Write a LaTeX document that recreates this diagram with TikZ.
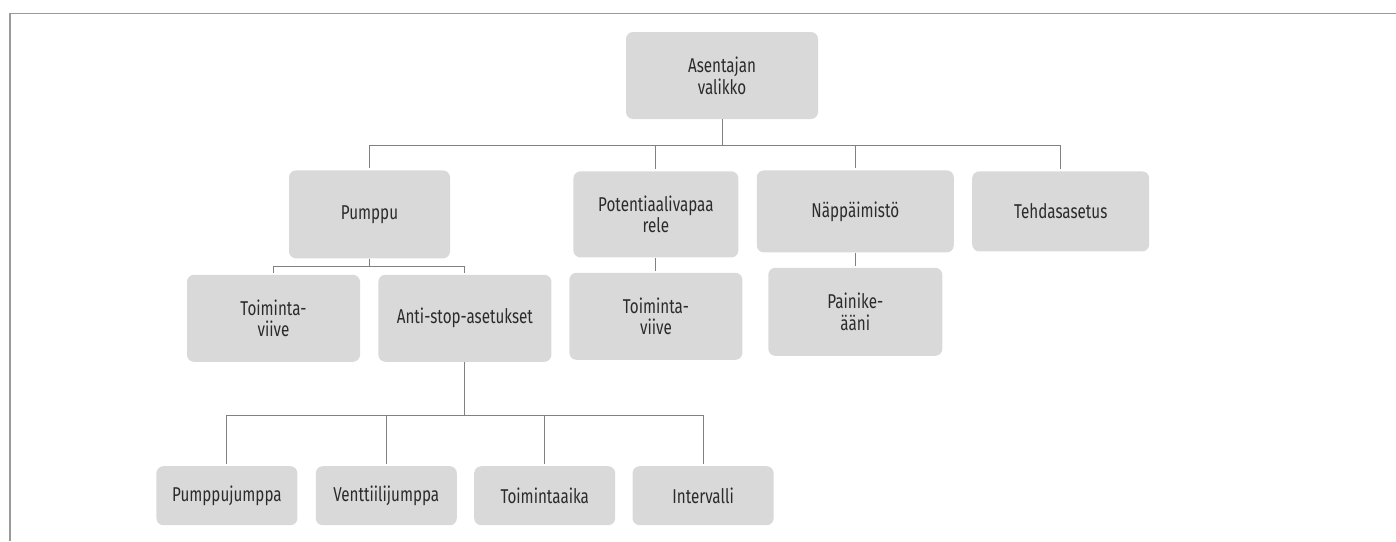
\documentclass[tikz,border=0pt]{standalone}
\usepackage{fontspec}
\setmainfont{Fira Sans}[FakeStretch=0.76]
\usepackage{tikz}
\usetikzlibrary{positioning}

\definecolor{boxgray}{HTML}{D9D9D9}
\definecolor{linegray}{HTML}{808080}
\definecolor{framegray}{HTML}{9A9A9A}
\definecolor{textgray}{HTML}{2B2B2B}

\tikzset{
  menubox/.style={fill=boxgray, rounded corners=7pt, align=center, inner sep=0pt,
    text=textgray, font=\fontsize{20}{21.7}\selectfont},
  link/.style={draw=linegray, line width=1pt, shorten >=2pt},
  frame/.style={draw=framegray, line width=1.3pt}
}

\begin{document}
\begin{tikzpicture}[x=1pt, y=-1pt]
                    \useasboundingbox (0,0) rectangle (1396,541);
                    \draw[frame] (10,541) -- (10,13.3) -- (1396,13.3);

                    \node (top) [menubox, minimum width=192pt, minimum height=87pt] at (722,75.5) {Asentajan\\valikko};
                    \node (pump) [menubox, minimum width=161pt, minimum height=88pt, below=51pt of top, xshift=-352.5pt] {Pumppu};
                    \node (rele) [menubox, minimum width=165pt, minimum height=86pt, right=123pt of pump] {Potentiaalivapaa\\rele};
                    \node (nappis) [menubox, minimum width=197pt, minimum height=82pt, right=18pt of rele, yshift=3pt] {Näppäimistö};
                    \node (tehdas) [menubox, minimum width=177pt, minimum height=80pt, right=18pt of nappis] {Tehdasasetus};

                    \node (viive1) [menubox, minimum width=173pt, minimum height=87pt, below=16pt of pump, xshift=-96pt] {Toiminta-\\viive};
                    \node (antistop) [menubox, minimum width=173pt, minimum height=87pt, right=18pt of viive1] {Anti-stop-asetukset};
                    \node (viive2) [menubox, minimum width=173pt, minimum height=87pt, below=15pt of rele] {Toiminta-\\viive};
                    \node (painike) [menubox, minimum width=174pt, minimum height=88pt, below=15pt of nappis] {Painike-\\ääni};

                    \node (pjumppa) [menubox, minimum width=141pt, minimum height=59pt, below=104pt of antistop, xshift=-238pt] {Pumppujumppa};
                    \node (vjumppa) [menubox, minimum width=141pt, minimum height=59pt, right=18pt of pjumppa] {Venttiilijumppa};
                    \node (taika) [menubox, minimum width=141pt, minimum height=59pt, right=17pt of vjumppa] {Toimintaaika};
                    \node (interv) [menubox, minimum width=141pt, minimum height=59pt, right=17pt of taika] {Intervalli};

                    % main menu
                    \coordinate (bus1) at ([yshift=-26pt]top.south);
                    \draw[link] (top.south) -- (bus1) -| (pump.north);
                    \draw[link] (top.south) -- (bus1) -| (rele.north);
                    \draw[link] (top.south) -- (bus1) -| (nappis.north);
                    \draw[link] (top.south) -- (bus1) -| (tehdas.north);

                    % second level
                    \coordinate (bus2) at ([yshift=-8pt]pump.south);
                    \draw[link] (pump.south) -- (bus2) -| (viive1.north);
                    \draw[link] (pump.south) -- (bus2) -| (antistop.north);
                    \draw[link] (rele.south) -- (viive2.north);
                    \draw[link] (nappis.south) -- (painike.north);

                    % anti-stop
                    \coordinate (bus3) at ([yshift=-53pt]antistop.south);
                    \draw[link] (antistop.south) -- (bus3) -| (pjumppa.north);
                    \draw[link] (antistop.south) -- (bus3) -| (vjumppa.north);
                    \draw[link] (antistop.south) -- (bus3) -| (taika.north);
                    \draw[link] (antistop.south) -- (bus3) -| (interv.north);
                \end{tikzpicture}
\end{document}
